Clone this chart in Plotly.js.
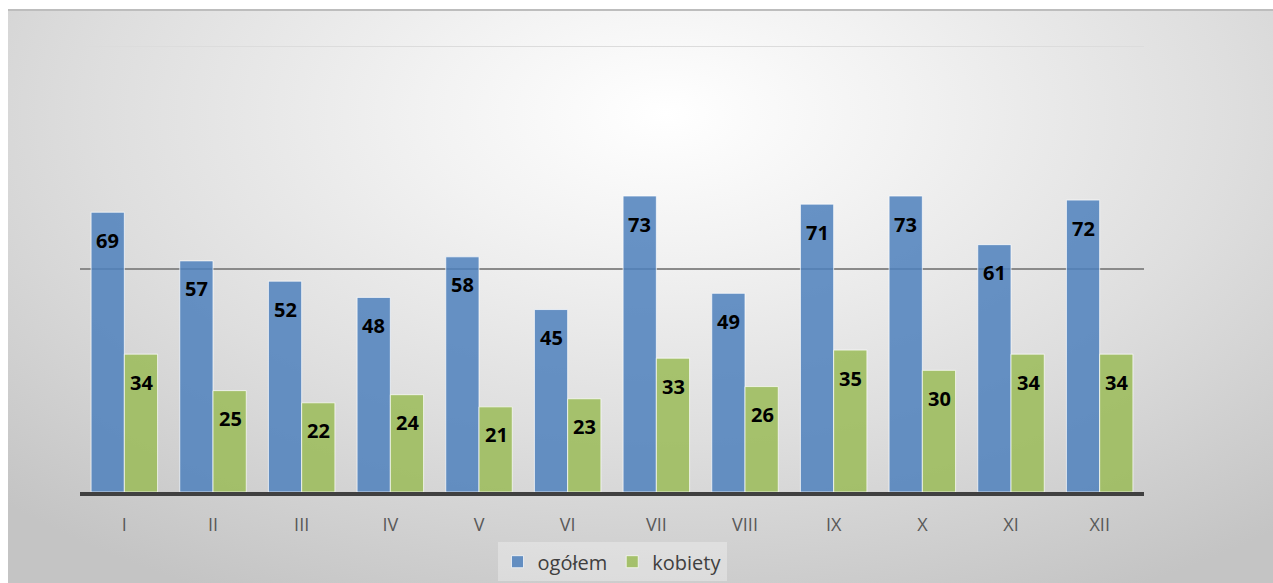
<!DOCTYPE html>
<html>
<head>
<meta charset="utf-8">
<script src="https://cdn.plot.ly/plotly-3.0.1.min.js"></script>
<style>
  html, body { margin: 0; padding: 0; background: #ffffff; width: 1273px; height: 583px; overflow: hidden; }
  #bg { position: absolute; left: 8px; top: 9px; width: 1265px; height: 574px;
        border-top: 2px solid #bdbdbd; box-sizing: border-box;
        background: radial-gradient(ellipse 75% 95% at 52% 18%, #ffffff 0%, #f2f2f2 25%, #dedede 60%, #c4c4c4 100%); }
  #chart { position: absolute; left: 0; top: 0; width: 1273px; height: 583px; }
</style>
</head>
<body>
<div id="bg"></div>
<div id="chart"></div>
<script>
const months = ['I','II','III','IV','V','VI','VII','VIII','IX','X','XI','XII'];
const ogolem = [69, 57, 52, 48, 58, 45, 73, 49, 71, 73, 61, 72];
const kobiety = [34, 25, 22, 24, 21, 23, 33, 26, 35, 30, 34, 34];
const seriesNames = ['ogółem', 'kobiety'];

const traces = [
  { type: 'bar', name: seriesNames[0], x: months, y: ogolem,
    marker: { color: 'rgba(79,129,189,0.86)', line: { color: 'rgba(255,255,255,0.7)', width: 1 } },
    hoverinfo: 'x+y' },
  { type: 'bar', name: seriesNames[1], x: months, y: kobiety,
    marker: { color: 'rgba(155,187,89,0.86)', line: { color: 'rgba(255,255,255,0.7)', width: 1 } },
    hoverinfo: 'x+y' }
];

const labelFont = { family: 'Open Sans', size: 20, color: '#000000' };
const annotations = [];
months.forEach((m, i) => {
  annotations.push({ x: m, y: ogolem[i], xref: 'x', yref: 'y', text: '<b>' + ogolem[i] + '</b>',
    showarrow: false, xshift: -16.5, yshift: -28, yanchor: 'middle', font: labelFont });
  annotations.push({ x: m, y: kobiety[i], xref: 'x', yref: 'y', text: '<b>' + kobiety[i] + '</b>',
    showarrow: false, xshift: 17, yshift: -28, yanchor: 'middle', font: labelFont });
});

const layout = {
  width: 1273, height: 583,
  margin: { l: 80, r: 129, t: 46, b: 91, pad: 0 },
  paper_bgcolor: 'rgba(0,0,0,0)',
  plot_bgcolor: 'rgba(0,0,0,0)',
  barmode: 'group',
  bargap: 0.25,
  bargroupgap: 0,
  showlegend: true,
  legend: { orientation: 'h', x: 0.5, xanchor: 'center', xref: 'paper',
            y: 0.07, yanchor: 'top', yref: 'container',
            bgcolor: 'rgba(255,255,255,0.3)', borderwidth: 0,
            font: { family: 'Open Sans', size: 20, color: '#404040' },
            traceorder: 'normal' },
  xaxis: { type: 'category', showgrid: false, zeroline: false,
           showline: true, linecolor: '#404040', linewidth: 4,
           ticks: 'outside', ticklen: 13, tickcolor: 'rgba(0,0,0,0)',
           tickfont: { family: 'Open Sans', size: 18, color: '#595959' } },
  yaxis: { range: [0, 110], showgrid: false, zeroline: false, showticklabels: false, showline: false, fixedrange: true },
  shapes: [
    { type: 'line', xref: 'paper', yref: 'y', x0: 0, x1: 1, y0: 55, y1: 55, layer: 'below',
      line: { color: '#8a8a8a', width: 2 } },
    { type: 'line', xref: 'paper', yref: 'y', x0: 0, x1: 1, y0: 110, y1: 110, layer: 'below',
      line: { color: '#dcdcdc', width: 2 } }
  ],
  annotations: annotations
};

Plotly.newPlot('chart', traces, layout, { displayModeBar: false, staticPlot: true });
</script>
</body>
</html>
